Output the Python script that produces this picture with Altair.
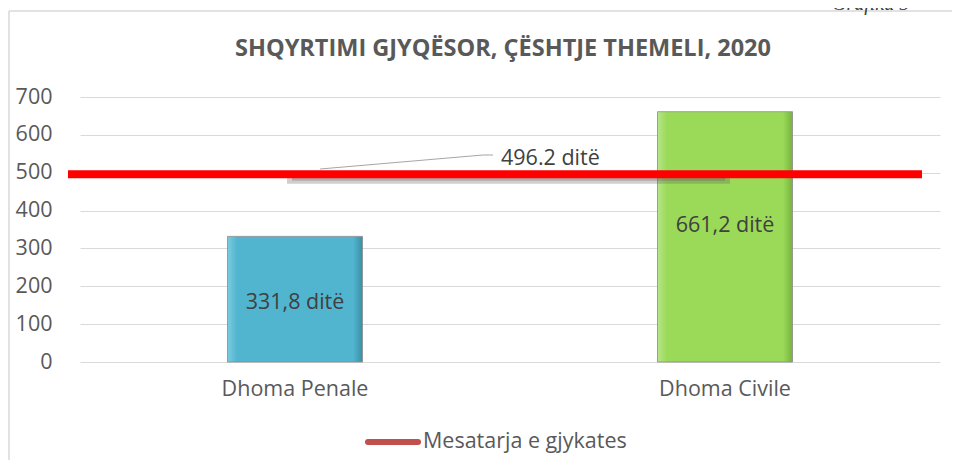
import altair as alt
import pandas as pd

categories = ["Dhoma Penale", "Dhoma Civile"]
values = [331.8, 661.2]
average = [496.2]
y_ticks = [0, 100, 200, 300, 400, 500, 600, 700]
title_text = "SHQYRTIMI GJYQËSOR, ÇËSHTJE THEMELI, 2020"
legend_label = "Mesatarja e gjykates"
corner_label = "Grafiku 5"

FONT = "Open Sans"
GREY = "#595959"
FS = 21.5

bars_df = pd.DataFrame({"cat": categories, "v": values})
avg_df = pd.DataFrame({"avg": average})

x_axis = alt.Axis(title=None, labelAngle=0, domain=False, ticks=False,
                  labelFontSize=FS, labelColor=GREY, labelFont=FONT,
                  labelPadding=16)
x_enc = alt.X("cat:N", sort=categories,
              scale=alt.Scale(paddingInner=0, paddingOuter=0), axis=x_axis)
y_scale = alt.Scale(domain=[0, 700], nice=False)
y_axis = alt.Axis(title=None, values=y_ticks, domain=False, ticks=False,
                  labelFontSize=FS, labelColor=GREY, labelFont=FONT,
                  labelOverlap=False, tickCount=8,
                  labelPadding=28, gridColor="#D9D9D9", gridWidth=1)
y_enc = alt.Y("v:Q", scale=y_scale, axis=y_axis)

base = alt.Chart(bars_df)


def grad(light, mid, dark):
    return {"gradient": "linear", "x1": 0, "y1": 0, "x2": 1, "y2": 0,
            "stops": [{"offset": 0, "color": light},
                      {"offset": 0.07, "color": mid},
                      {"offset": 0.93, "color": mid},
                      {"offset": 1, "color": dark}]}


bar_penale = base.transform_filter(alt.datum.cat == categories[0]).mark_bar(
    size=135, fill=grad("#7CCBE0", "#52B5CF", "#3A8FA6"),
    stroke="#8a8a8a", strokeWidth=0.8).encode(x=x_enc, y=y_enc)
bar_civile = base.transform_filter(alt.datum.cat == categories[1]).mark_bar(
    size=135, fill=grad("#B6E68A", "#9ADA58", "#78B23E"),
    stroke="#8a8a8a", strokeWidth=0.8).encode(x=x_enc, y=y_enc)

lab_base = base.transform_calculate(
    mid="datum.v / 2",
    txt="replace(format(datum.v, '.1f'), '.', ',') + ' ditë'")
lab_penale = lab_base.transform_filter(alt.datum.cat == categories[0]).mark_text(
    font=FONT, fontSize=FS, color="#404040", dy=4).encode(
    x=x_enc, y=alt.Y("mid:Q", scale=y_scale, axis=y_axis), text="txt:N")
lab_civile = lab_base.transform_filter(alt.datum.cat == categories[1]).mark_text(
    font=FONT, fontSize=FS, color="#404040", dy=-11).encode(
    x=x_enc, y=alt.Y("mid:Q", scale=y_scale, axis=y_axis), text="txt:N")

avg_base = alt.Chart(avg_df)
avg_y = alt.Y("avg:Q", scale=y_scale, axis=y_axis)
shadow = avg_base.mark_rule(color="#5f5f5f", opacity=0.3, strokeWidth=7, yOffset=6).encode(
    x=alt.value(207), x2=alt.value(650), y=avg_y)
shadow2 = avg_base.mark_rule(color="#5f5f5f", opacity=0.3, strokeWidth=3, yOffset=5).encode(
    x=alt.value(212), x2=alt.value(645), y=avg_y)
red_line = avg_base.mark_rule(color="#FF0000", strokeWidth=8).encode(
    x=alt.value(-12), x2=alt.value(842), y=avg_y)
avg_label = avg_base.transform_calculate(
    txt="format(datum.avg, '.1f') + ' ditë'").mark_text(
    font=FONT, fontSize=FS, color="#404040", align="left", dy=-15).encode(
    x=alt.value(421), y=avg_y, text="txt:N")
leader1 = avg_base.mark_rule(color="#A6A6A6", strokeWidth=1).encode(
    x=alt.value(240), y=alt.value(72), x2=alt.value(403), y2=alt.value(58))
leader2 = avg_base.mark_rule(color="#A6A6A6", strokeWidth=1).encode(
    x=alt.value(403), y=alt.value(58), x2=alt.value(413), y2=alt.value(58))

title = avg_base.mark_text(font=FONT, fontSize=23.5, fontWeight="bold", color=GREY).encode(
    x=alt.value(423), y=alt.value(-48), text=alt.value(title_text))

corner = avg_base.mark_text(font="Liberation Serif", fontStyle="italic", fontSize=20,
                            color="#404040", align="left", baseline="alphabetic").encode(
    x=alt.value(752), y=alt.value(-87), text=alt.value(corner_label))

frame_left = avg_base.mark_rule(color="#D9D9D9", strokeWidth=1.5).encode(
    x=alt.value(-71), x2=alt.value(-71), y=alt.value(-86), y2=alt.value(370))
frame_top = avg_base.mark_rule(color="#D9D9D9", strokeWidth=1.5).encode(
    x=alt.value(-71), x2=alt.value(880), y=alt.value(-86), y2=alt.value(-86))

legend_sym = avg_base.mark_rule(color="#C0504D", strokeWidth=6, strokeCap="round").encode(
    x=alt.value(288), x2=alt.value(338), y=alt.value(345), y2=alt.value(345))
legend_txt = avg_base.mark_text(font=FONT, fontSize=FS, color=GREY, align="left").encode(
    x=alt.value(343), y=alt.value(345), text=alt.value(legend_label))

chart = alt.layer(
    frame_left, frame_top, corner, title,
    bar_penale, bar_civile, lab_penale, lab_civile,
    shadow, shadow2, red_line, leader1, leader2, avg_label,
    legend_sym, legend_txt,
).properties(
    width=860, height=265,
    autosize=alt.AutoSizeParams(type="none"),
    padding={"left": 72, "top": 89, "right": 12, "bottom": 98},
    background="white",
).configure_view(stroke=None)

chart.save("out.html", embed_options={"renderer": "svg", "actions": False})
